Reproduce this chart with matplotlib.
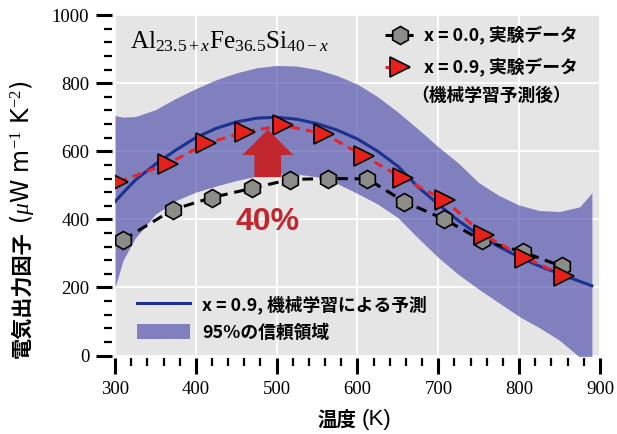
import matplotlib
matplotlib.use("Agg")
import matplotlib.pyplot as plt
from matplotlib.patches import FancyArrow
from matplotlib.font_manager import FontProperties
from matplotlib.ticker import MultipleLocator

plt.rcParams['mathtext.fontset'] = 'custom'
plt.rcParams['mathtext.rm'] = 'Liberation Serif'
plt.rcParams['mathtext.it'] = 'Liberation Serif:italic'

JP = ['Noto Sans CJK JP', 'DejaVu Sans']

# measured power factor, x = 0.0
temp_x00 = [310, 372, 420, 469, 516, 564, 612, 658, 707, 754, 805, 853]
pf_x00 = [340, 429, 464, 491, 517, 520, 519, 452, 401, 338, 304, 262]

# measured power factor, x = 0.9 (composition picked by the model)
temp_x09 = [304, 366, 413, 461, 508, 559, 608, 656, 708, 757, 807, 855]
pf_x09 = [510, 564, 623, 657, 676, 651, 586, 521, 456, 353, 288, 235]

# model prediction for x = 0.9 and its 95% band
temp_pred = [300, 310, 325, 350, 375, 400, 425, 450, 475, 500, 525, 550, 575,
             600, 625, 650, 675, 700, 725, 750, 775, 800, 825, 850, 875, 890]
pf_pred = [452, 478, 515, 562, 603, 640, 667, 686, 697, 700, 694, 681, 662,
           636, 600, 556, 495, 444, 396, 354, 320, 289, 263, 240, 218, 205]
band_high = [705, 700, 702, 722, 755, 784, 810, 830, 845, 852, 850, 840, 822,
             797, 760, 715, 665, 613, 565, 508, 470, 442, 426, 423, 437, 478]
band_low = [200, 280, 345, 415, 455, 480, 498, 514, 527, 534, 533, 525, 505,
            476, 445, 405, 345, 288, 238, 195, 155, 115, 82, 45, -5, -40]

fig = plt.figure(figsize=(6.17, 4.34), dpi=100)
ax = fig.add_axes([0.1864, 0.1806, 0.786, 0.7848])
ax.set_facecolor('#e5e5e5')

band = ax.fill_between(temp_pred, band_low, band_high, color='#3d3da7',
                       alpha=0.6, lw=0, zorder=2)
l_pred, = ax.plot(temp_pred, pf_pred, color='#1c3291', lw=2.2, zorder=3)
l00, = ax.plot(temp_x00, pf_x00, color='black', lw=2.2, dashes=(3.5, 2.2),
               marker='h', ms=13, mfc='#8c8c88', mec='black', mew=1.2, zorder=4)
l09, = ax.plot(temp_x09, pf_x09, color='#e8242a', lw=2.2, dashes=(3, 2),
               marker='>', ms=14, mfc='#e8201c', mec='black', mew=1.2, zorder=5)

# improvement arrow
ax.add_patch(FancyArrow(489, 524, 0, 140, width=33, head_width=63,
                        head_length=75, length_includes_head=True,
                        color='#c1272d', lw=0, zorder=6))
ax.text(489, 392, '40%', color='#c1272d', fontsize=23, fontweight='bold',
        family=['Liberation Sans'], ha='center', va='center', zorder=6)

ax.text(0.031, 0.903, r'$\mathrm{Al}_{23.5+x}\mathrm{Fe}_{36.5}\mathrm{Si}_{40-x}$',
        transform=ax.transAxes, fontsize=18, va='baseline')

ax.set_xlim(300, 900)
ax.set_ylim(0, 1000)
ax.xaxis.set_major_locator(MultipleLocator(100))
ax.xaxis.set_minor_locator(MultipleLocator(20))
ax.yaxis.set_major_locator(MultipleLocator(200))
ax.yaxis.set_minor_locator(MultipleLocator(40))
ax.grid(True, which='major', color='white', lw=1.3, zorder=1)
ax.set_axisbelow(True)
for side in ax.spines:
    ax.spines[side].set_visible(False)
    ax.spines[side].set_position(('outward', 2))
ax.tick_params(which='major', length=11.5, width=2.2, direction='out', pad=5,
               labelsize=13.5)
ax.tick_params(which='minor', length=6, width=1.6, direction='out')
for lab in ax.get_xticklabels() + ax.get_yticklabels():
    lab.set_family('Liberation Serif')

# legends
leg_font = FontProperties(family=JP, weight='bold', size=12.8)
leg1 = ax.legend([l00, l09], ['x = 0.0, 実験データ', 'x = 0.9, 実験データ'],
                 loc='upper left', bbox_to_anchor=(0.557, 0.966), frameon=False,
                 prop=leg_font, handlelength=1.7, handletextpad=0.5,
                 labelspacing=0.72, borderpad=0, borderaxespad=0)
ax.add_artist(leg1)
ax.text(0.611, 0.762, '（機械学習予測後）', transform=ax.transAxes,
        fontproperties=leg_font, va='center')
ax.legend([l_pred, band], ['x = 0.9, 機械学習による予測', '95%の信頼領域'],
          loc='upper left', bbox_to_anchor=(0.045, 0.178), frameon=False,
          prop=leg_font, handlelength=3.0, handleheight=0.95, handletextpad=0.67,
          labelspacing=0.55, borderpad=0, borderaxespad=0)

# axis titles
fig.text(0.0357, 0.175, '電気出力因子', rotation=90, ha='center', va='bottom',
         family=JP, fontweight='bold', fontsize=15.2)
fig.text(0.0357, 0.483, r'($\mu$W m$^{-1}$ K$^{-2}$)', rotation=90,
         ha='center', va='bottom', fontsize=17)
fig.text(317 / 617, 0.032, '温度', ha='left', va='center', family=JP,
         fontweight='bold', fontsize=14)
fig.text(362 / 617, 0.034, '(K)', ha='left', va='center',
         family=['Liberation Sans'], fontsize=16)

fig.savefig('out.png', dpi=100)
